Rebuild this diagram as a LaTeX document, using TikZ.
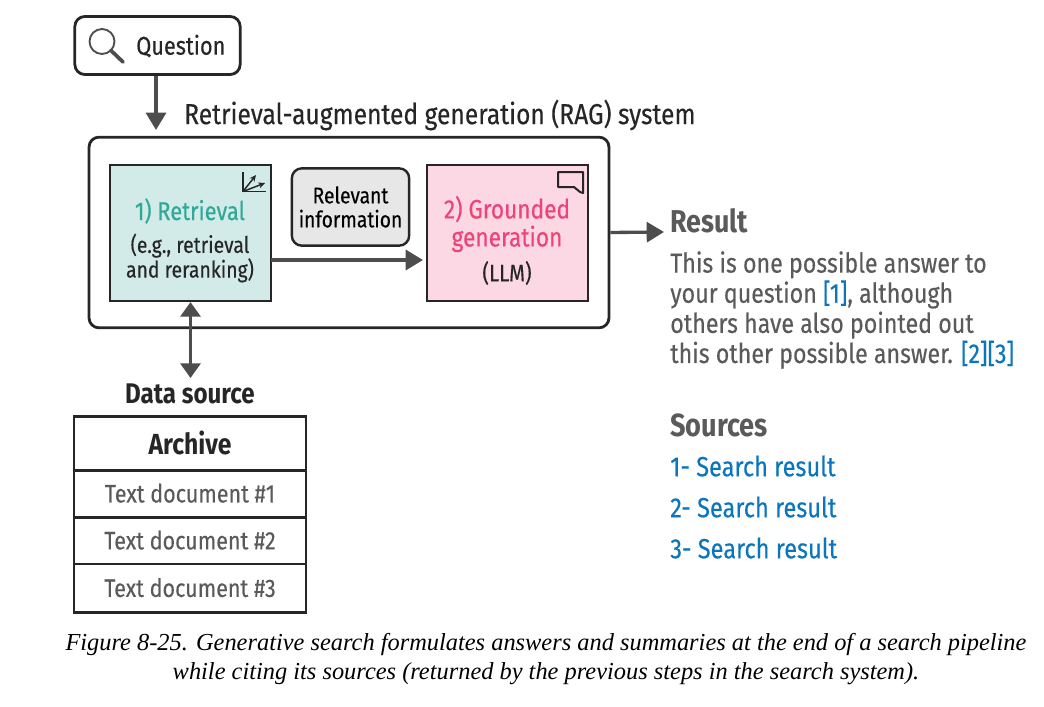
\documentclass[tikz,border=0pt]{standalone}
\usepackage{fontspec}
\setmainfont{Fira Sans}[FakeStretch=0.85,UprightFeatures={FakeBold=0.3}]
\newfontfamily\capfont{Liberation Serif}
\usetikzlibrary{arrows.meta}
\definecolor{inkgray}{HTML}{4D4D4D}
\definecolor{textgray}{HTML}{5A5A5A}
\definecolor{tealfill}{HTML}{D2EBE9}
\definecolor{pinkfill}{HTML}{FBD8E3}
\definecolor{greyfill}{HTML}{E7E7E7}
\definecolor{tealtext}{HTML}{2FA898}
\definecolor{pinktext}{HTML}{EE4379}
\definecolor{bluetext}{HTML}{0B76BC}
\tikzset{
  every picture/.style={x=0.75pt,y=-0.75pt},
  txt/.style={inner sep=0pt,text=black!85},
  outline/.style={draw=black!85,line width=2.1pt,rounded corners=7.5pt},
  cell/.style={draw=black!85,line width=2.1pt,outer sep=0pt,minimum width=174pt,inner sep=0pt,text=textgray,font=\fontsize{19}{22}\selectfont},
  flow/.style={draw=inkgray,line width=2.5pt,-{Triangle[width=15pt,length=13pt]}},
  flowboth/.style={draw=inkgray,line width=2.5pt,{Triangle[width=15pt,length=11pt]}-{Triangle[width=15pt,length=11pt]}},
  srcline/.style={inner sep=0pt,anchor=west,text=bluetext,font=\fontsize{20.8}{24}\selectfont}
}
\begin{document}
\begin{tikzpicture}
  \useasboundingbox (0,0) rectangle (1044,706);
  % top row
  \node[outline,minimum width=124pt,minimum height=43.5pt,inner sep=0pt] (question) at (157.5,45.5) {};
  \node[txt,anchor=west,font=\fontsize{19.2}{22}\selectfont] (questiontext) at (136,46) {Question};
  \draw[line width=1.4pt,draw=inkgray] (102,41.5) circle [radius=12.5];
  \draw[line width=2.8pt,draw=inkgray,line cap=round] (111,50.5) -- (123,62);
  \node[txt,anchor=west,font=\fontsize{21.7}{24}\selectfont] (ragtitle) at (184,115) {Retrieval-augmented generation (RAG) system};
  % system
  \node[outline,minimum width=390pt,minimum height=143pt,inner sep=0pt] (system) at (349,232.5) {};
  \node[draw=black!85,line width=1.6pt,fill=tealfill,minimum width=120.5pt,minimum height=102pt,inner sep=0pt] (retrieval) at (190.5,233) {};
  \node[draw=black!85,line width=1.6pt,fill=pinkfill,minimum width=120.5pt,minimum height=102pt,inner sep=0pt] (grounded) at (507.5,233) {};
  \node[outline,line width=1.8pt,fill=greyfill,minimum width=88pt,minimum height=58pt,inner sep=0pt,align=center,font=\fontsize{17}{18}\selectfont] (relevant) at (350.5,207) {Relevant\\information};
  \node[inner sep=0pt,align=center,text=tealtext,font=\fontsize{19.3}{21}\selectfont] (retrievaltext) at (190,211) {1) Retrieval};
  \node[txt,align=center,font=\fontsize{17.1}{18.5}\selectfont] (retrievalnote) at (190,258) {(e.g., retrieval\\and reranking)};
  \node[inner sep=0pt,align=center,text=pinktext,font=\fontsize{20}{21}\selectfont] (groundedtext) at (507,224) {2) Grounded\\generation};
  \node[txt,font=\fontsize{18}{20}\selectfont] (llm) at (507,273) {(LLM)};
  % corner icons
  \draw[line width=1.3pt,draw=black!85] (243,172) -- (243,191.5) -- (266,191.5);
  \draw[line width=1.1pt,draw=black!85,-{Stealth[length=5pt,width=4.5pt]}] (243,191.5) -- (256,175);
  \draw[line width=1.1pt,draw=black!85,-{Stealth[length=5pt,width=4.5pt]}] (243,191.5) -- (265,183);
  \draw[line width=1.5pt,draw=black!85,line join=round] (558,172) -- (583,172) -- (583,193) -- (580,192) -- (574,187) -- (558,187) -- cycle;
  % connectors
  \coordinate (retrievalout) at (271,260);
  \coordinate (groundedin) at (423,260);
  \draw[flow] (question.south -| 156,75) -- (156,130);
  \draw[flow] (retrievalout) -- (groundedin);
  % result
  \node[inner sep=0pt,anchor=west,text=textgray,font=\fontsize{23.7}{26}\bfseries\selectfont] (result) at (670,221) {Result};
  \coordinate (resultin) at (664,232);
  \draw[flow] (system.east) -- (resultin);
  \node[inner sep=0pt,anchor=north west,align=left,text=textgray,font=\fontsize{20.5}{22.6}\selectfont] (answer) at (670,251) {This is one possible answer to\\your question {\color{bluetext}[1]}, although\\others have also pointed out\\this other possible answer. {\color{bluetext}[2][3]}};
  % sources
  \node[inner sep=0pt,anchor=west,text=textgray,font=\fontsize{24}{26}\bfseries\selectfont] (sources) at (670,425) {Sources};
  \node[srcline] (sourcea) at (670,466) {1- Search result};
  \node[srcline] (sourceb) at (670,507) {2- Search result};
  \node[srcline] (sourcec) at (670,548) {3- Search result};
  % data source
  \node[txt,font=\fontsize{21.3}{24}\bfseries\selectfont] (datasource) at (190,394) {Data source};
  \draw[flowboth] (retrieval.south) -- (190.5,378);
  \node[cell,minimum height=40pt,text=black!85,font=\fontsize{21.8}{24}\bfseries\selectfont] (archive) at (190,443.5) {\raisebox{1pt}{Archive}};
  \node[cell,minimum height=35.2pt,anchor=north] (doca) at (archive.south) {\raisebox{1pt}{Text document \#1}};
  \node[cell,minimum height=35.2pt,anchor=north] (docb) at (doca.south) {\raisebox{1pt}{Text document \#2}};
  \node[cell,minimum height=36.6pt,anchor=north] (docc) at (docb.south) {\raisebox{1.5pt}{Text document \#3}};
  % caption
  \node[inner sep=0pt,align=center,text=black,font=\capfont\itshape\fontsize{18.3}{22}\selectfont] (caption) at (546,659) {Figure 8-25. Generative search formulates answers and summaries at the end of a search pipeline\\while citing its sources (returned by the previous steps in the search system).};
\end{tikzpicture}
\end{document}
